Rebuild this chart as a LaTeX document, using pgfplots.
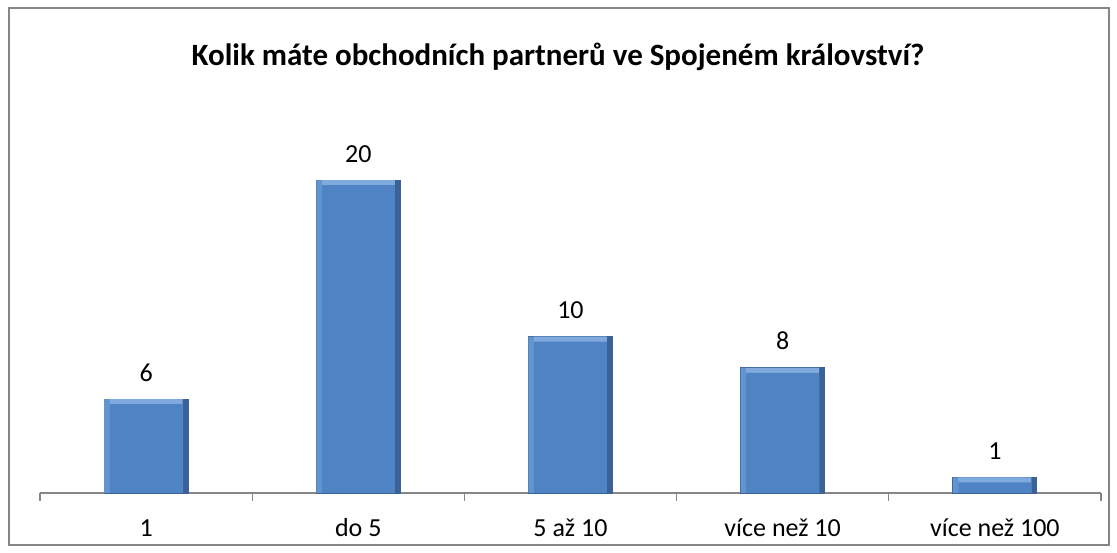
\documentclass[border=0pt]{standalone}
\usepackage{pgfplots}
\pgfplotsset{compat=1.18}
\usepackage{fontspec}
\setmainfont{Carlito}
\definecolor{barfill}{RGB}{80,131,196}
\definecolor{bartop}{RGB}{128,170,222}
\definecolor{barleft}{RGB}{98,148,208}
\definecolor{barright}{RGB}{58,98,150}
\definecolor{axgray}{RGB}{134,134,134}
\begin{document}
\begin{tikzpicture}
\useasboundingbox (-40pt,-60pt) rectangle (1077pt,493pt);
\draw[axgray, line width=2pt] (-31pt,-52pt) rectangle (1069pt,485pt);
\begin{axis}[
  at={(0pt,0pt)}, anchor=south west,
  scale only axis, width=1061pt, height=391pt,
  xmin=0.5, xmax=5.5, ymin=0, ymax=25,
  axis x line=bottom, axis y line=none,
  axis line style={-, axgray, line width=1.2pt},
  xtick={1,2,3,4,5},
  xticklabels={1, do 5, 5 až 10, více než 10, více než 100},
  major tick length=0pt,
  extra x ticks={0.5,1.5,2.5,3.5,4.5,5.5},
  extra x tick labels={},
  extra x tick style={major tick length=8pt, tick align=outside, tick style={axgray, line width=1.2pt}},
  xticklabel style={font=\fontsize{26}{31}\selectfont, anchor=base, yshift=-44pt, inner sep=0pt},
  ytick=\empty,
  ybar,
  /pgf/number format/assume math mode=true,
  clip=false,
]
% outer bar (dark right/bottom edge) with value labels
\addplot[fill=barright, draw=barright, line width=0.8pt, bar width=84pt, bar shift=0pt,
  nodes near coords={\pgfmathprintnumber{\pgfplotspointmeta}},
  nodes near coords style={font=\fontsize{26}{31}\selectfont, anchor=base, yshift=18pt, inner sep=0pt, text=black}]
  coordinates {(1,6) (2,20) (3,10) (4,8) (5,1)};
% left lighter strip
\addplot[fill=barleft, draw=none, bar width=78pt, bar shift=-3pt]
  coordinates {(1,6) (2,20) (3,10) (4,8) (5,1)};
% top light band
\addplot[fill=bartop, draw=none, bar width=73pt, bar shift=0pt]
  coordinates {(1,6) (2,20) (3,10) (4,8) (5,1)};
% main face
\addplot[fill=barfill, draw=none, bar width=73pt, bar shift=0pt]
  coordinates {(1,5.68) (2,19.68) (3,9.68) (4,7.68) (5,0.68)};
\end{axis}
\node[font=\fontsize{31}{37}\selectfont\bfseries] at (518pt,436pt) {Kolik máte obchodních partnerů ve Spojeném království?};
\end{tikzpicture}
\end{document}
